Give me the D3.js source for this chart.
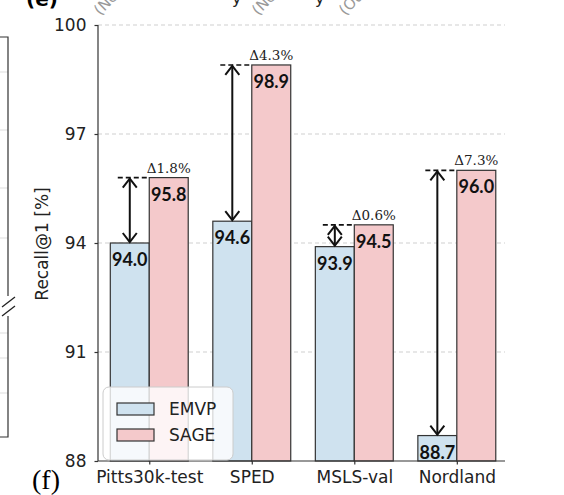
<!DOCTYPE html>
<html>
<head>
<meta charset="utf-8">
<script src="https://cdn.jsdelivr.net/npm/d3@7"></script>
<style>
  body { margin: 0; background: #fff; }
  svg { display: block; }
  .tick text { font-family: "DejaVu Sans", sans-serif; font-size: 17px; fill: #222; }
</style>
</head>
<body>
<svg width="564" height="495"></svg>
<script>
// data
const datasets = ['Pitts30k-test', 'SPED', 'MSLS-val', 'Nordland'];
const emvp = [94.0, 94.6, 93.9, 88.7];
const sage = [95.8, 98.9, 94.5, 96.0];
const gains = ['1.8', '4.3', '0.6', '7.3'];
const yTicks = [88, 91, 94, 97, 100];
const seriesNames = ['EMVP', 'SAGE'];
const seriesColors = ['#cfe2ef', '#f4c9cb'];

const svg = d3.select('svg');

const x = d3.scaleLinear().domain([-0.5, 3.47]).range([98, 505]);
const y = d3.scaleLinear().domain([88, 100]).range([461, 25]);
const bw = x(0.38) - x(0);

// bits of the neighbouring panels
const left = svg.append('g');
[72, 130, 188, 238, 305, 333, 358, 393].forEach(v => {
  left.append('line').attr('x1', 0).attr('x2', 8).attr('y1', v).attr('y2', v)
    .attr('stroke', '#ddd').attr('stroke-width', 1);
});
left.append('path').attr('d', 'M0,37H8V437H0')
  .attr('fill', 'none').attr('stroke', '#333').attr('stroke-width', 1.2);
left.append('rect').attr('x', 0).attr('y', 296).attr('width', 16).attr('height', 20).attr('fill', '#fff');
left.append('line').attr('x1', 2).attr('y1', 307).attr('x2', 15).attr('y2', 297).attr('stroke', '#222').attr('stroke-width', 1.3);
left.append('line').attr('x1', 2).attr('y1', 316).attr('x2', 15).attr('y2', 306).attr('stroke', '#222').attr('stroke-width', 1.3);

svg.append('text').attr('x', 26).attr('y', 6)
  .style('font-family', '"DejaVu Sans", sans-serif').style('font-weight', 'bold').style('font-size', '20px')
  .text('(e)');
[[100, '(NetVLAD)'], [258, '(NetVLAD)'], [345, '(Ours)']].forEach(d => {
  svg.append('text').attr('transform', `translate(${d[0]},16) rotate(-45)`)
    .style('font-family', '"DejaVu Sans", sans-serif').style('font-size', '15px')
    .attr('fill', '#999').text(d[1]);
});
[232, 315].forEach(px => {
  svg.append('text').attr('x', px).attr('y', 4)
    .style('font-family', '"DejaVu Sans", sans-serif').style('font-size', '16px')
    .attr('fill', '#222').text('y');
});
svg.append('text').attr('x', 32).attr('y', 489)
  .style('font-family', '"Liberation Serif", serif').style('font-size', '28px')
  .text('(f)');

// grid
svg.append('g')
  .selectAll('line')
  .data(yTicks.slice(1))
  .join('line')
  .attr('x1', x(-0.5)).attr('x2', x(3.47))
  .attr('y1', d => y(d)).attr('y2', d => y(d))
  .attr('stroke', '#cfcfcf').attr('stroke-width', 1).attr('stroke-dasharray', '4,3');

// bars
const groups = svg.append('g').selectAll('g')
  .data(datasets.map((name, i) => ({ name, i, vals: [emvp[i], sage[i]] })))
  .join('g');

groups.selectAll('rect')
  .data(d => d.vals.map((v, s) => ({ v, s, i: d.i })))
  .join('rect')
  .attr('x', d => d.s === 0 ? x(d.i) - bw : x(d.i))
  .attr('y', d => y(d.v))
  .attr('width', bw)
  .attr('height', d => y(88) - y(d.v))
  .attr('fill', d => seriesColors[d.s])
  .attr('stroke', '#333').attr('stroke-width', 1.2);

groups.selectAll('text.val')
  .data(d => d.vals.map((v, s) => ({ v, s, i: d.i })))
  .join('text')
  .attr('class', 'val')
  .attr('x', d => d.s === 0 ? x(d.i) - bw / 2 : x(d.i) + bw / 2)
  .attr('y', d => y(d.v) + 23)
  .attr('text-anchor', 'middle')
  .style('font-family', 'Lato, sans-serif').style('font-weight', 'bold').style('font-size', '18px')
  .attr('fill', '#111')
  .text(d => d.v.toFixed(1));

// gain annotations
datasets.forEach((name, i) => {
  const cx = x(i) - bw / 2;
  const yTop = y(sage[i]);
  const yBot = y(emvp[i]);
  const g = svg.append('g');
  g.append('line')
    .attr('x1', cx - 12).attr('x2', x(i))
    .attr('y1', yTop).attr('y2', yTop)
    .attr('stroke', '#111').attr('stroke-width', 1.6).attr('stroke-dasharray', '5,3');
  g.append('line')
    .attr('x1', cx).attr('x2', cx)
    .attr('y1', yTop + 1).attr('y2', yBot - 1)
    .attr('stroke', '#111').attr('stroke-width', 2);
  g.append('path')
    .attr('d', `M${cx - 7},${yTop + 10}L${cx},${yTop + 1}L${cx + 7},${yTop + 10}`)
    .attr('fill', 'none').attr('stroke', '#111').attr('stroke-width', 2);
  g.append('path')
    .attr('d', `M${cx - 7},${yBot - 10}L${cx},${yBot - 1}L${cx + 7},${yBot - 10}`)
    .attr('fill', 'none').attr('stroke', '#111').attr('stroke-width', 2);
  g.append('text')
    .attr('x', x(i) + bw / 2).attr('y', yTop - 5)
    .attr('text-anchor', 'middle')
    .style('font-family', '"DejaVu Serif", serif').style('font-size', '13.5px')
    .attr('fill', '#222')
    .text(`\u0394${gains[i]}%`);
});

// axes
const yAxis = svg.append('g')
  .attr('transform', `translate(${x(-0.5)},0)`)
  .call(d3.axisLeft(y).tickValues(yTicks).tickFormat(d3.format('d')).tickSize(3.5).tickPadding(8));
const xAxis = svg.append('g')
  .attr('transform', `translate(0,${y(88)})`)
  .call(d3.axisBottom(x).tickValues([0, 1, 2, 3]).tickFormat(i => datasets[i]).tickSize(3.5).tickPadding(6));
[yAxis, xAxis].forEach(a => {
  a.select('.domain').attr('stroke', '#333').attr('stroke-width', 1.2);
  a.selectAll('.tick line').attr('stroke', '#333').attr('stroke-width', 1.2);
});
yAxis.select('.domain').attr('d', `M-0,${y(100)}V${y(88)}`);
xAxis.select('.domain').attr('d', `M${x(-0.5)},0H${x(3.47)}`);

svg.append('text')
  .attr('transform', `translate(48,${(y(88) + y(100)) / 2 + 1}) rotate(-90)`)
  .attr('text-anchor', 'middle')
  .style('font-family', '"DejaVu Sans", sans-serif').style('font-size', '17px')
  .attr('fill', '#222')
  .text('Recall@1 [%]');

// legend
const legend = svg.append('g').attr('transform', 'translate(103,387)');
legend.append('rect')
  .attr('width', 130).attr('height', 73).attr('rx', 6)
  .attr('fill', '#fff').attr('fill-opacity', 0.8)
  .attr('stroke', '#ccc').attr('stroke-width', 1);
seriesNames.forEach((n, s) => {
  legend.append('rect')
    .attr('x', 14).attr('y', 16 + s * 26).attr('width', 37).attr('height', 12)
    .attr('fill', seriesColors[s]).attr('stroke', '#333').attr('stroke-width', 1.2);
  legend.append('text')
    .attr('x', 66).attr('y', 28 + s * 26)
    .style('font-family', '"DejaVu Sans", sans-serif').style('font-size', '17px')
    .attr('fill', '#222')
    .text(n);
});
</script>
</body>
</html>
